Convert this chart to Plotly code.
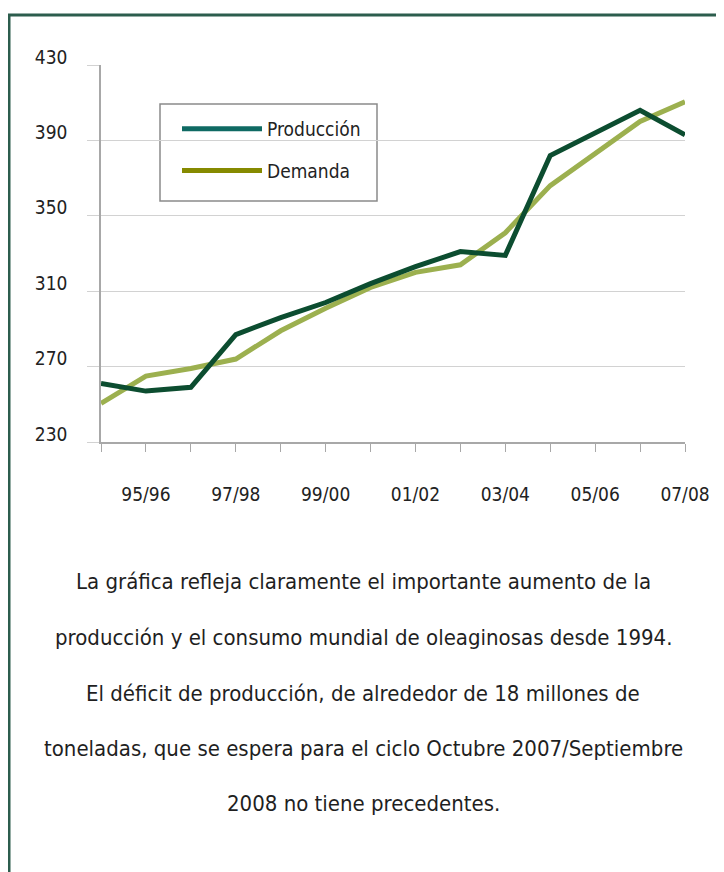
import plotly.graph_objects as go

# ---- data ----
seasons = ["94/95", "95/96", "96/97", "97/98", "98/99", "99/00", "00/01",
           "01/02", "02/03", "03/04", "04/05", "05/06", "06/07", "07/08"]
produccion = [261, 257, 259, 287, 296, 304, 314, 323, 331, 329, 382, 394, 406, 393]
demanda = [250.5, 265, 269, 274, 289, 301, 312, 320, 324, 341, 366, 383, 400, 410.5]
label_seasons = ["95/96", "97/98", "99/00", "01/02", "03/04", "05/06", "07/08"]
y_ticks = [230, 270, 310, 350, 390, 430]

texto = [
    "La gráfica refleja claramente el importante aumento de la",
    "producción y el consumo mundial de oleaginosas desde 1994.",
    "El déficit de producción, de alrededor de 18 millones de",
    "toneladas, que se espera para el ciclo Octubre 2007/Septiembre",
    "2008 no tiene precedentes.",
]

FONT = "DejaVu Sans Condensed, Liberation Sans Narrow, sans-serif"
OFF = 8                      # page body margin
W, H = 724 - OFF, 872 - OFF  # figure size
# plot area in page pixels
PL, PR, PT, PB = 101, 685, 65, 442


def px(x):
    return (x - PL) / (PR - PL)


def py(y):
    return (PB - y) / (PB - PT)


xi = list(range(len(seasons)))
label_idx = [seasons.index(s) for s in label_seasons]

fig = go.Figure()
fig.add_trace(go.Scatter(x=xi, y=demanda, mode="lines", name="Demanda",
                         line=dict(color="#9cb04f", width=5), showlegend=False))
fig.add_trace(go.Scatter(x=xi, y=produccion, mode="lines", name="Producción",
                         line=dict(color="#0c4d30", width=5), showlegend=False))
# legend entries (colours as shown in the reference legend)
fig.add_trace(go.Scatter(x=[None], y=[None], mode="lines", name="Producción",
                         line=dict(color="#0f6a63", width=5), legendgroup="p"))
fig.add_trace(go.Scatter(x=[None], y=[None], mode="lines", name="Demanda",
                         line=dict(color="#868a00", width=5), legendgroup="d"))

fig.update_xaxes(range=[0, 13], tickvals=label_idx, ticktext=label_seasons,
                 showgrid=False, zeroline=False, showline=True,
                 linecolor="#a8a8a8", linewidth=1.5,
                 ticks="outside", ticklen=8, tickcolor="#a8a8a8",
                 minor=dict(tickvals=xi, ticks="outside", ticklen=8,
                            tickcolor="#a8a8a8", showgrid=False),
                 ticklabelstandoff=26,
                 tickfont=dict(family=FONT, size=19, color="#222222"))
fig.update_yaxes(range=[230, 430], tickvals=y_ticks,
                 showgrid=True, gridcolor="#d2d2d2", gridwidth=1.2,
                 zeroline=False, showline=True, linecolor="#a8a8a8",
                 linewidth=1.5, ticks="outside", ticklen=12,
                 tickcolor="#d2d2d2", ticklabelstandoff=16, ticklabelshift=-8,
                 tickfont=dict(family=FONT, size=19, color="#222222"))

shapes = [
    dict(type="line", xref="paper", yref="paper", x0=px(8), x1=px(730),
         y0=py(15), y1=py(15), line=dict(color="#2c5d4d", width=3)),
    dict(type="line", xref="paper", yref="paper", x0=px(9), x1=px(9),
         y0=py(15), y1=py(880), line=dict(color="#2c5d4d", width=3)),
    dict(type="rect", xref="paper", yref="paper", x0=px(160), x1=px(377),
         y0=py(104), y1=py(201), line=dict(color="#8a8a8a", width=1.5),
         fillcolor="white", layer="below"),
]

line_y = [581, 637, 693, 748, 804]
annotations = [
    dict(text=t, xref="paper", yref="paper", x=px(363), y=py(yy),
         xanchor="center", yanchor="middle", showarrow=False,
         font=dict(family=FONT, size=22, color="#1f1f1f"))
    for t, yy in zip(texto, line_y)
]

fig.update_layout(
    width=W, height=H,
    margin=dict(l=PL - OFF, r=W - (PR - OFF), t=PT - OFF, b=H - (PB - OFF)),
    paper_bgcolor="white", plot_bgcolor="white",
    shapes=shapes, annotations=annotations,
    legend=dict(x=px(177), y=py(110), xanchor="left", yanchor="top",
                bgcolor="rgba(0,0,0,0)", borderwidth=0, itemwidth=80,
                traceorder="grouped", tracegroupgap=14,
                font=dict(family=FONT, size=19, color="#222222")),
    showlegend=True,
)

fig.write_html("out.html")
